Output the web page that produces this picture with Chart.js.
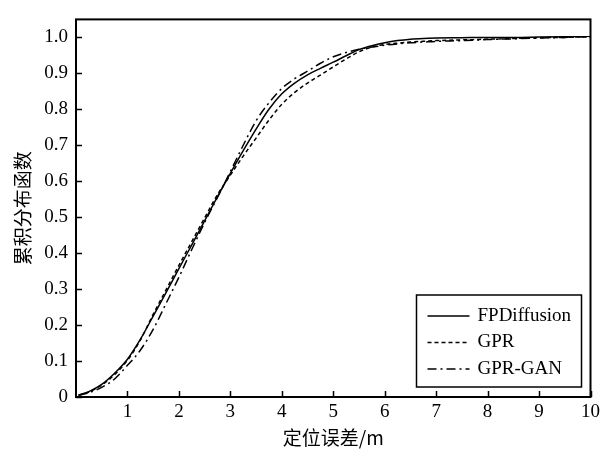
<!DOCTYPE html>
<html>
<head>
<meta charset="utf-8">
<script src="https://cdn.jsdelivr.net/npm/chart.js@4/dist/chart.umd.min.js"></script>
<style>
  html, body { margin: 0; padding: 0; background: #fff; }
  #wrap { width: 604px; height: 456px; }
</style>
</head>
<body>
<div id="wrap"><canvas id="cdf" width="604" height="456"></canvas></div>
<script>
const errorX = [0.05, 0.25, 0.5, 0.75, 1, 1.25, 1.5, 1.75, 2, 2.25, 2.5, 2.75, 3, 3.25, 3.5, 3.75,
    4, 4.25, 4.5, 4.75, 5, 5.25, 5.5, 5.75, 6, 6.25, 6.5, 6.75, 7, 7.5, 8, 8.5, 9, 9.5, 10];

const fpdiffusion = [0.005, 0.015, 0.035, 0.066, 0.105, 0.16, 0.225, 0.29, 0.357, 0.423, 0.49, 0.557,
    0.622, 0.685, 0.745, 0.8, 0.843, 0.873, 0.896, 0.914, 0.931, 0.949, 0.966, 0.977, 0.985, 0.991,
    0.995, 0.997, 0.998, 0.999, 1.0, 1.0, 1.001, 1.002, 1.003];

const gpr = [0.005, 0.014, 0.033, 0.062, 0.102, 0.158, 0.23, 0.298, 0.366, 0.432, 0.498, 0.563,
    0.617, 0.67, 0.72, 0.77, 0.814, 0.847, 0.873, 0.895, 0.918, 0.94, 0.96, 0.973, 0.98, 0.984,
    0.987, 0.989, 0.991, 0.993, 0.995, 0.997, 0.999, 1.0, 1.002];

const gprGan = [0.005, 0.012, 0.027, 0.05, 0.088, 0.13, 0.188, 0.26, 0.333, 0.41, 0.485, 0.555,
    0.627, 0.7, 0.768, 0.818, 0.858, 0.885, 0.906, 0.928, 0.946, 0.958, 0.967, 0.973, 0.978, 0.982,
    0.985, 0.987, 0.989, 0.991, 0.994, 0.996, 0.998, 1.0, 1.002];

const seriesNames = ["FPDiffusion", "GPR", "GPR-GAN"];
const xTitle = "定位误差/m";
const yTitle = "累积分布函数";

const serif = "'Liberation Serif', 'DejaVu Serif', serif";
const cjk = "'Noto Sans CJK SC', 'Liberation Serif', sans-serif";

function points(ys) {
    return errorX.map((x, i) => ({ x: x, y: ys[i] }));
}

// frame, inward ticks and the legend box
const framePlugin = {
    id: "frame",
    afterDraw(chart) {
        const { ctx, chartArea: a, scales } = chart;
        ctx.save();
        ctx.strokeStyle = "#000";
        ctx.lineWidth = 2;
        ctx.strokeRect(a.left, a.top, a.right - a.left, a.bottom - a.top);

        ctx.lineWidth = 1.5;
        ctx.beginPath();
        scales.x.ticks.forEach((t) => {
            const px = Math.round(scales.x.getPixelForValue(t.value)) + 0.5;
            ctx.moveTo(px, a.bottom);
            ctx.lineTo(px, a.bottom - 6);
        });
        scales.y.ticks.forEach((t) => {
            const py = Math.round(scales.y.getPixelForValue(t.value)) + 0.5;
            ctx.moveTo(a.left, py);
            ctx.lineTo(a.left + 6, py);
        });
        ctx.stroke();

        // legend
        const bx = a.right - 174, by = a.bottom - 102, bw = 165, bh = 92;
        ctx.fillStyle = "#fff";
        ctx.fillRect(bx, by, bw, bh);
        ctx.lineWidth = 1.5;
        ctx.strokeRect(bx, by, bw, bh);
        ctx.font = "19px " + serif;
        ctx.textBaseline = "middle";
        chart.data.datasets.forEach((ds, i) => {
            const y = by + 21 + i * 26.5;
            ctx.beginPath();
            ctx.setLineDash(ds.borderDash || []);
            ctx.lineWidth = ds.borderWidth;
            ctx.moveTo(bx + 11, y);
            ctx.lineTo(bx + 53, y);
            ctx.stroke();
            ctx.setLineDash([]);
            ctx.fillStyle = "#000";
            ctx.fillText(ds.label, bx + 61, y);
        });
        ctx.restore();
    },
};

const ctx = document.getElementById("cdf").getContext("2d");
new Chart(ctx, {
    type: "line",
    data: {
        datasets: [
            {
                label: seriesNames[0],
                data: points(fpdiffusion),
                borderColor: "#000",
                borderWidth: 1.5,
                borderDash: [],
            },
            {
                label: seriesNames[1],
                data: points(gpr),
                borderColor: "#000",
                borderWidth: 1.5,
                borderDash: [4, 3],
            },
            {
                label: seriesNames[2],
                data: points(gprGan),
                borderColor: "#000",
                borderWidth: 1.5,
                borderDash: [9, 4, 2, 4],
            },
        ],
    },
    options: {
        responsive: false,
        animation: false,
        cubicInterpolationMode: "monotone",
        elements: { point: { radius: 0 }, line: { fill: false } },
        layout: { padding: { top: 8, right: 10, bottom: 0, left: 0 } },
        plugins: { legend: { display: false }, tooltip: { enabled: false } },
        scales: {
            x: {
                type: "linear",
                min: 0,
                max: 10,
                grid: { display: false, drawTicks: false },
                border: { display: false },
                ticks: {
                    stepSize: 1,
                    padding: 4,
                    color: "#000",
                    font: { family: serif, size: 19 },
                },
                title: {
                    display: true,
                    text: xTitle,
                    color: "#000",
                    font: { family: cjk, size: 19 },
                    padding: { top: 0, bottom: 7 },
                },
                afterBuildTicks(scale) {
                    scale.ticks = scale.ticks.filter((t) => t.value > 0);
                },
                afterFit(scale) {
                    scale.height = 59;
                },
            },
            y: {
                min: 0,
                max: 1.05,
                grid: { display: false, drawTicks: false },
                border: { display: false },
                ticks: {
                    stepSize: 0.1,
                    includeBounds: false,
                    padding: 8,
                    color: "#000",
                    font: { family: serif, size: 19 },
                    callback: (v) => (v === 0 ? "0" : v.toFixed(1)),
                },
                title: {
                    display: true,
                    text: yTitle,
                    color: "#000",
                    font: { family: cjk, size: 19 },
                    padding: { top: 11, bottom: 0 },
                },
                afterBuildTicks(scale) {
                    scale.ticks = scale.ticks.filter((t) => t.value <= 1.0001);
                },
                afterFit(scale) {
                    scale.width = 76;
                },
            },
        },
    },
    plugins: [framePlugin],
});
</script>
</body>
</html>
